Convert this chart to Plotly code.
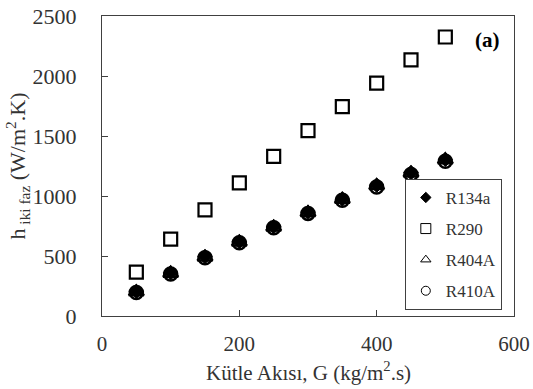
import plotly.graph_objects as go

G = [50, 100, 150, 200, 250, 300, 350, 400, 450, 500]
r134a = [205, 360, 495, 620, 745, 865, 975, 1090, 1195, 1305]
r290 = [365, 640, 885, 1110, 1330, 1545, 1745, 1940, 2135, 2325]
r404a = [200, 355, 490, 615, 740, 860, 970, 1085, 1190, 1300]
r410a = [195, 350, 485, 610, 735, 855, 965, 1075, 1180, 1290]

names = ["R134a", "R290", "R404A", "R410A"]
series = [r134a, r290, r404a, r410a]
symbols = ["diamond", "square-open", "triangle-up-open", "circle-open"]
plot_sizes = [11, 13, 13, 13]
line_widths = [1, 2.2, 2.5, 2.5]
legend_sizes = [8, 10, 9, 9]

FONT = "Liberation Serif"

fig = go.Figure()
for nm, ys, sym, sz, lw in zip(names, series, symbols, plot_sizes, line_widths):
    fig.add_trace(go.Scatter(x=G, y=ys, mode="markers", name=nm, showlegend=False,
                             marker=dict(symbol=sym, size=sz, color="black",
                                         line=dict(color="black", width=lw))))
for nm, sym, sz in zip(names, symbols, legend_sizes):
    fig.add_trace(go.Scatter(x=[None], y=[None], mode="markers", name=nm, legendgroup=nm,
                             marker=dict(symbol=sym, size=sz, color="black",
                                         line=dict(color="black", width=1))))

fig.add_annotation(x=0.971, y=0.92, xref="paper", yref="paper", text="<b>(a)</b>",
                   showarrow=False, xanchor="right", yanchor="middle",
                   font=dict(family=FONT, size=21, color="black"))
fig.add_annotation(x=0.5, y=-0.185, xref="paper", yref="paper",
                   text="Kütle Akısı, G (kg/m<sup>2</sup>.s)",
                   showarrow=False, xanchor="center", yanchor="middle",
                   font=dict(family=FONT, size=21, color="#333"))

axis_common = dict(showgrid=False, zeroline=False, showline=True, linecolor="#404040",
                   linewidth=1, mirror=True, ticks="inside", ticklen=6, automargin=False,
                   tickcolor="#404040")

fig.update_layout(
    width=533, height=389,
    margin=dict(l=102, r=19, t=16, b=73),
    paper_bgcolor="white", plot_bgcolor="white",
    font=dict(family=FONT, color="#333"),
    xaxis=dict(range=[0, 600], dtick=200, ticklabelstandoff=9,
               tickfont=dict(family=FONT, size=21, color="#333"), **axis_common),
    yaxis=dict(range=[0, 2500], dtick=500, ticklabelstandoff=20,
               tickfont=dict(family=FONT, size=22, color="#333"),
               title=dict(text="h<sub> iki faz</sub> (W/m<sup>2</sup>.K)",
                          font=dict(family=FONT, size=22), standoff=0), **axis_common),
    legend=dict(x=0.735, y=0.457, xanchor="left", yanchor="top",
                bordercolor="#404040", borderwidth=1, bgcolor="white",
                font=dict(family=FONT, size=17, color="#333"),
                itemwidth=30, tracegroupgap=6),
    showlegend=True,
)

fig.write_html("out.html")
